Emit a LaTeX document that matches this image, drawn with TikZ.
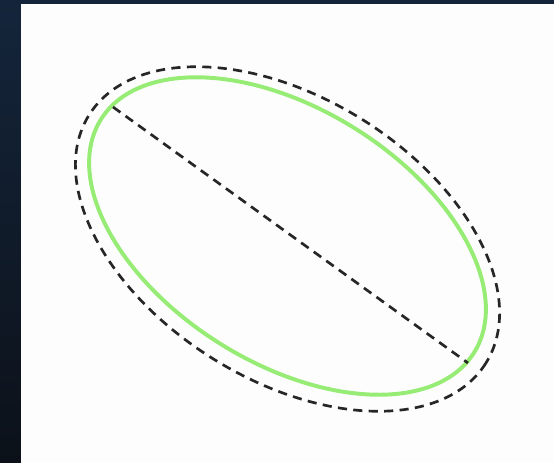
\documentclass[tikz,border=0pt]{standalone}
\usepackage{tikz}
\usetikzlibrary{positioning}
\definecolor{navytop}{HTML}{14253B}
\definecolor{navybottom}{HTML}{0C1119}
\definecolor{paper}{HTML}{FDFDFD}
\definecolor{lightgreen}{HTML}{96EC74}
\def\tilt{-32}
\def\innerA{220}
\def\innerB{127}
\def\outerA{234}
\def\outerB{141}

\begin{document}
\begin{tikzpicture}[
    x=0.025cm, y=-0.025cm,
    rim/.style={draw=lightgreen, line width=2.8pt},
    guide/.style={draw=black!85, line width=1.9pt, dash pattern=on 6.5pt off 4.5pt}
]
\useasboundingbox (0,0) rectangle (554,462);
\shade[top color=navytop, bottom color=navybottom] (0,0) rectangle (554,462);
% paper runs past the right and bottom edges
\fill[paper] (21,4) rectangle (560,468);
\coordinate (c) at (287.5,236);
\coordinate (co) at (287.5,239);
\draw[guide, rotate around={\tilt:(co)}] (co) ellipse [x radius=\outerA, y radius=\outerB];
\draw[rim, rotate around={\tilt:(c)}] (c) ellipse [x radius=\innerA, y radius=\innerB];
\coordinate (p) at (113,107);
\coordinate (q) at (468,363);
\draw[guide] (p) -- (q);
\end{tikzpicture}
\end{document}
